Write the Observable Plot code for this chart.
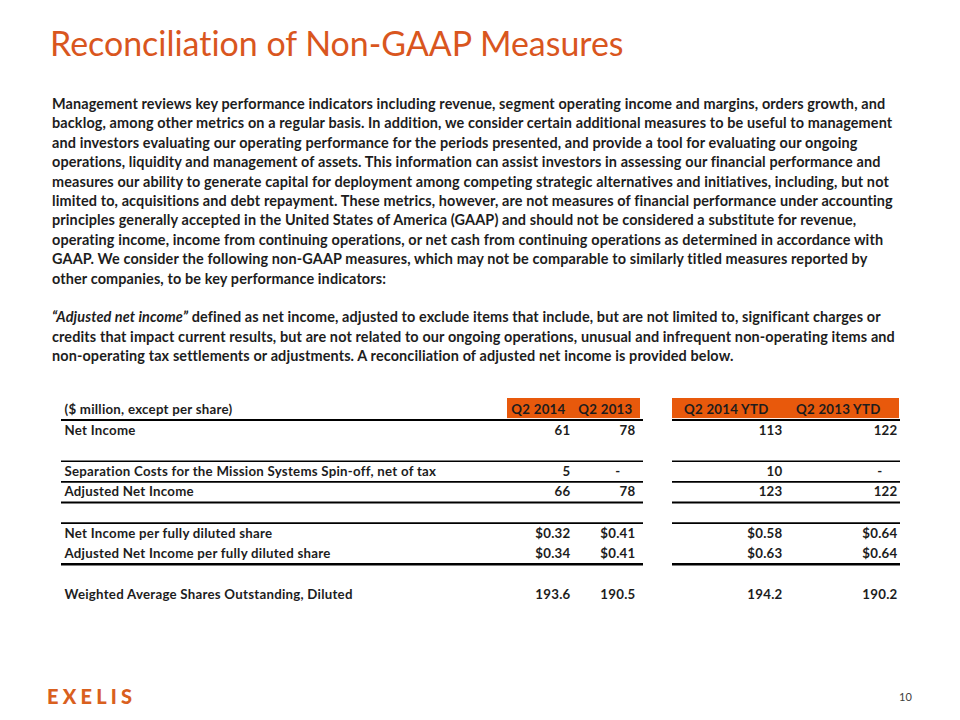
<!DOCTYPE html>
<html>
<head>
<meta charset="utf-8">
<script src="https://cdn.jsdelivr.net/npm/d3@7"></script>
<script src="https://cdn.jsdelivr.net/npm/@observablehq/plot@0.6"></script>
<style>
  html, body { margin: 0; padding: 0; background: #fff; }
  #page { position: relative; width: 960px; height: 720px; overflow: hidden; background: #fff; font-family: Lato, "Open Sans", sans-serif; font-variant-ligatures: none; }
  #title { position: absolute; left: 50px; top: 27px; color: #D9561E; white-space: nowrap; line-height: 1; font-weight: 400; font-feature-settings: "liga" 0, "dlig" 0; }
  #para { position: absolute; left: 52px; top: 94px; font-weight: 700; color: #1d1d1d; line-height: 19.4px; }
  #para div { white-space: nowrap; height: 19.4px; }
  #para i { font-style: italic; }
  #table { position: absolute; left: 0; top: 385px; }
  #table svg text { font-variant-ligatures: none; }
  #logo { position: absolute; left: 47px; top: 684px; color: #D9601E; font-weight: 900; font-size: 20px; letter-spacing: 4.2px; line-height: 24px; }
  #pnum { position: absolute; left: 899px; top: 690px; color: #404040; font-size: 11px; line-height: 14px; }
</style>
</head>
<body>
<div id="page">
  <div id="title"></div>
  <div id="para"></div>
  <div id="table"></div>
  <div id="logo">EXELIS</div>
  <div id="pnum">10</div>
</div>
<script>
// ---------- text content ----------
const titleText = "Reconciliation of Non-GAAP Measures";
const paragraphLines = [
  "Management reviews key performance indicators including revenue, segment operating income and margins, orders growth, and",
  "backlog, among other metrics on a regular basis. In addition, we consider certain additional measures to be useful to management",
  "and investors evaluating our operating performance for the periods presented, and provide a tool for evaluating our ongoing",
  "operations, liquidity and management of assets. This information can assist investors in assessing our financial performance and",
  "measures our ability to generate capital for deployment among competing strategic alternatives and initiatives, including, but not",
  "limited to, acquisitions and debt repayment. These metrics, however, are not measures of financial performance under accounting",
  "principles generally accepted in the United States of America (GAAP) and should not be considered a substitute for revenue,",
  "operating income, income from continuing operations, or net cash from continuing operations as determined in accordance with",
  "GAAP. We consider the following non-GAAP measures, which may not be comparable to similarly titled measures reported by",
  "other companies, to be key performance indicators:",
  "",
  "<i>\u201CAdjusted net income\u201D</i> defined as net income, adjusted to exclude items that include, but are not limited to, significant charges or",
  "credits that impact current results, but are not related to our ongoing operations, unusual and infrequent non-operating items and",
  "non-operating tax settlements or adjustments. A reconciliation of adjusted net income is provided below."
];

// ---------- table data ----------
const unitsLabel = "($ million, except per share)";
const columns = ["Q2 2014", "Q2 2013", "Q2 2014 YTD", "Q2 2013 YTD"];
const rowLabels = [
  "Net Income",
  "Separation Costs for the Mission Systems Spin-off, net of tax",
  "Adjusted Net Income",
  "Net Income per fully diluted share",
  "Adjusted Net Income per fully diluted share",
  "Weighted Average Shares Outstanding, Diluted"
];
const rowKinds = ["int", "int", "int", "usd", "usd", "dec1"];
const q2_2014 = [61, 5, 66, 0.32, 0.34, 193.6];
const q2_2013 = [78, null, 78, 0.41, 0.41, 190.5];
const q2_2014_ytd = [113, 10, 123, 0.58, 0.63, 194.2];
const q2_2013_ytd = [122, null, 122, 0.64, 0.64, 190.2];
const seriesByColumn = [q2_2014, q2_2013, q2_2014_ytd, q2_2013_ytd];

// ---------- layout (positions / styles) ----------
const LAYOUT = {
  labelX: 64,
  valueRight: {"Q2 2014": 570, "Q2 2013": 635, "Q2 2014 YTD": 782, "Q2 2013 YTD": 897},
  headRight: {"Q2 2014": 565, "Q2 2013": 632, "Q2 2014 YTD": 768, "Q2 2013 YTD": 880},
  sections: [{x1: 61, x2: 643, box1: 507, box2: 640}, {x1: 672, x2: 900, box1: 672, box2: 899}],
  slots: 10,
  headerSlot: 0,
  slotOfRow: [1, 3, 4, 6, 7, 9],
  rules: [{slot: 1, w: 2}, {slot: 3, w: 1.6}, {slot: 4, w: 1.6}, {slot: 5, w: 2}, {slot: 6, w: 1.6}, {slot: 8, w: 2.6}]
};
const ORANGE = "#E8590C";
const INK = "#1d1d1d";

// ---------- fitting helpers ----------
const ctx = document.createElement("canvas").getContext("2d");
function measure(text, weight, style = "normal") {
  ctx.font = `${style} ${weight} 100px Lato`;
  return ctx.measureText(text).width / 100;
}

// Title
const titleEl = document.getElementById("title");
titleEl.textContent = titleText;
titleEl.style.fontSize = (576 / measure(titleText, 400)).toFixed(2) + "px";

// Paragraph
const paraLS = 0.12;
const paraFS = (834 - paraLS * (paragraphLines[0].length - 1)) / measure(paragraphLines[0], 700);
const paraEl = document.getElementById("para");
paraEl.style.fontSize = paraFS.toFixed(2) + "px";
paraEl.style.letterSpacing = paraLS + "px";
paraEl.innerHTML = paragraphLines.map(l => `<div>${l}</div>`).join("");

// Table font
const tableLS = 0.25;
const fitLabel = rowLabels[1];
const tableFS = (372 - tableLS * (fitLabel.length - 1)) / measure(fitLabel, 700);

// ---------- build table records ----------
const fmt = {
  int: d3.format("d"),
  usd: v => "$" + d3.format(".2f")(v),
  dec1: d3.format(".1f")
};
const labelCells = rowLabels.map((label, i) => ({text: label, slot: LAYOUT.slotOfRow[i]}));
labelCells.unshift({text: unitsLabel, slot: LAYOUT.headerSlot});
const valueCells = [];
const dashCells = [];
columns.forEach((col, c) => {
  seriesByColumn[c].forEach((v, i) => {
    const cell = {col, slot: LAYOUT.slotOfRow[i]};
    if (v == null) dashCells.push({...cell, text: "-"});
    else valueCells.push({...cell, text: fmt[rowKinds[i]](v)});
  });
});
const headerCells = columns.map(col => ({col, text: col}));
const ruleSegs = LAYOUT.rules.flatMap(r => LAYOUT.sections.map(s => ({...r, x1: s.x1, x2: s.x2})));

const textOpts = {fontFamily: "Lato", fontWeight: 700, fontSize: tableFS, fill: INK};

const chart = Plot.plot({
  width: 960,
  height: 230,
  margin: 0,
  style: {background: "transparent", letterSpacing: tableLS + "px", color: INK},
  x: {domain: [0, 960], range: [0, 960], axis: null},
  y: {domain: [0, LAYOUT.slots], range: [14, 220], axis: null},
  marks: [
    Plot.rect(LAYOUT.sections, {x1: "box1", x2: "box2", y1: LAYOUT.headerSlot, y2: LAYOUT.headerSlot + 1, insetTop: -1, insetBottom: 1.5, fill: ORANGE}),
    Plot.ruleY(ruleSegs, {y: "slot", x1: "x1", x2: "x2", stroke: "#000", strokeWidth: "w"}),
    Plot.text(labelCells, {x: () => LAYOUT.labelX, y: d => d.slot + 0.5, text: "text", textAnchor: "start", ...textOpts}),
    Plot.text(headerCells, {x: d => LAYOUT.headRight[d.col], y: LAYOUT.headerSlot + 0.5, text: "text", textAnchor: "end", ...textOpts}),
    Plot.text(valueCells, {x: d => LAYOUT.valueRight[d.col], y: d => d.slot + 0.5, text: "text", textAnchor: "end", ...textOpts}),
    Plot.text(dashCells, {x: d => LAYOUT.valueRight[d.col], y: d => d.slot + 0.5, dx: -15, text: "text", textAnchor: "end", ...textOpts})
  ]
});
document.getElementById("table").appendChild(chart);
</script>
</body>
</html>
